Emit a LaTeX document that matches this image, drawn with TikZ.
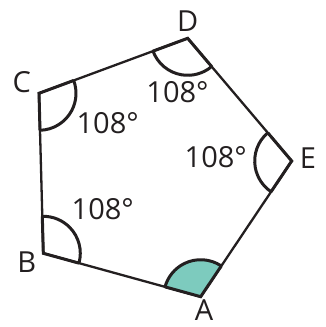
\documentclass[tikz,border=0pt]{standalone}
\usepackage{fontspec}
\setmainfont{Open Sans}
\usetikzlibrary{calc,angles}
\definecolor{ink}{HTML}{231F20}
\definecolor{tealfill}{HTML}{7DCBBE}
\begin{document}
\begin{tikzpicture}[x=1pt,y=1pt,
  edge/.style={draw=ink, line width=2.3pt, line join=miter},
  angmark/.style={draw=ink, line width=3pt, angle radius=37pt},
  radial/.style={draw=ink, line width=3pt, line join=miter},
  lbl/.style={font=\fontsize{29}{32}\selectfont, inner sep=0pt, text=ink}]
\useasboundingbox (0,0) rectangle (326,327);
\coordinate (A) at (200.7,30.3);
\coordinate (B) at (43.3,73.7);
\coordinate (C) at (39,233.7);
\coordinate (D) at (187.7,288.7);
\coordinate (E) at (291.7,166);
\draw[edge] (A) -- (B) -- (C) -- (D) -- (E) -- cycle;
\pic[angmark, fill=tealfill] {angle=E--A--B};
\pic[angmark] {angle=A--B--C};
\pic[angmark] {angle=B--C--D};
\pic[angmark] {angle=C--D--E};
\pic[angmark] {angle=D--E--A};
\draw[radial] ($(A)!37pt!(E)$) -- (A) -- ($(A)!37pt!(B)$);
\draw[radial] ($(B)!37pt!(A)$) -- (B) -- ($(B)!37pt!(C)$);
\draw[radial] ($(C)!37pt!(B)$) -- (C) -- ($(C)!37pt!(D)$);
\draw[radial] ($(D)!37pt!(C)$) -- (D) -- ($(D)!37pt!(E)$);
\draw[radial] ($(E)!37pt!(D)$) -- (E) -- ($(E)!37pt!(A)$);
\node[lbl] (lA) at (204,17) {A};
\node[lbl] (lB) at (26.7,65.3) {B};
\node[lbl] (lC) at (21.7,245.3) {C};
\node[lbl] (lD) at (187.7,306) {D};
\node[lbl] (lE) at (308,169.3) {E};
\node[lbl] (aC) at (107.7,203.7) {108°};
\node[lbl] (aD) at (177.5,235.3) {108°};
\node[lbl] (aE) at (215.8,170.3) {108°};
\node[lbl] (aB) at (102.8,117.8) {108°};
\end{tikzpicture}
\end{document}
